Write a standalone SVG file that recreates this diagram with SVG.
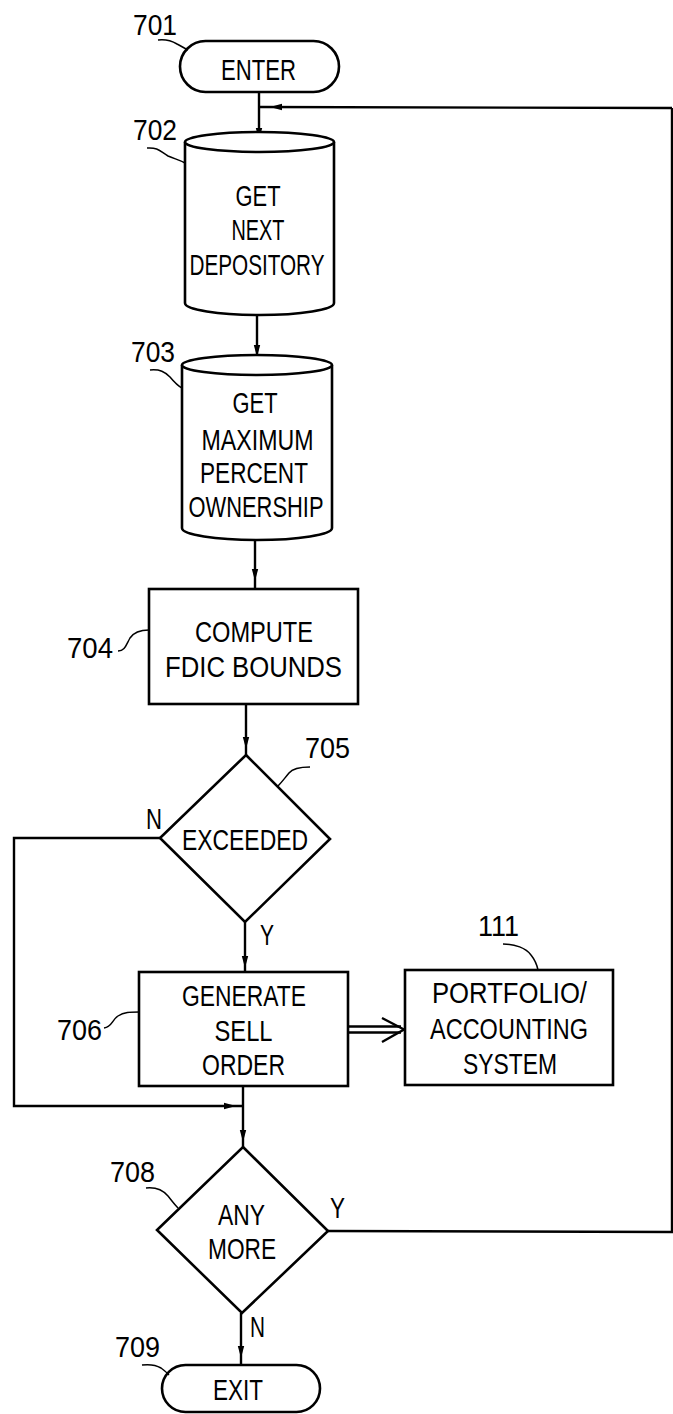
<svg xmlns="http://www.w3.org/2000/svg" width="673" height="1414" viewBox="0 0 673 1414">
<style>
.s{fill:#fff;stroke:#000;stroke-width:2.6}
.c{fill:none;stroke:#000;stroke-width:2.4}
.l{fill:none;stroke:#000;stroke-width:1.5}
text{font-family:"Liberation Sans",Arial,sans-serif;font-size:30px;fill:#000}
.n{font-size:29px}
.m{text-anchor:middle}
</style>
<defs>
<path id="ah" d="M0,0 L-3.2,-12 L3.2,-12 Z" fill="#000"/>
</defs>
<rect width="673" height="1414" fill="#fff"/>
<g id="connectors">
<path class="c" d="M259,92 L259,146"/>
<path class="c" d="M672,108 L259,107"/>
<path class="c" d="M257,315 L257,364"/>
<path class="c" d="M255,540 L255,589"/>
<path class="c" d="M246,704 L246,755"/>
<path class="c" d="M160,838 L14,838 L14,1106 L243,1106"/>
<path class="c" d="M245,922 L245,972"/>
<path class="c" d="M243,1086 L243,1147"/>
<path class="c" d="M328,1231 L672,1232 L672,108"/>
<path class="c" d="M241,1313 L241,1365"/>
<path class="c" d="M348,1026.5 L401,1026.5 M348,1032.5 L401,1032.5"/>
<path class="c" d="M382,1018 L404,1029.5 L382,1042"/>
<use href="#ah" transform="translate(270,107) rotate(90)"/>
<use href="#ah" transform="translate(259,140)"/>
<use href="#ah" transform="translate(257,357)"/>
<use href="#ah" transform="translate(255,581)"/>
<use href="#ah" transform="translate(246,749)"/>
<use href="#ah" transform="translate(245,968)"/>
<use href="#ah" transform="translate(236,1106) rotate(-90)"/>
<use href="#ah" transform="translate(243,1142)"/>
<use href="#ah" transform="translate(241,1358)"/>
<text class="n" x="146" y="829" textLength="16" lengthAdjust="spacingAndGlyphs">N</text>
<text class="n" x="260" y="945" textLength="14" lengthAdjust="spacingAndGlyphs">Y</text>
<text class="n" x="330" y="1218" textLength="15" lengthAdjust="spacingAndGlyphs">Y</text>
<text class="n" x="250" y="1337" textLength="15" lengthAdjust="spacingAndGlyphs">N</text>
</g>
<g id="n701">
<rect class="s" x="180" y="41" width="159" height="51" rx="25.5"/>
<text class="m" x="258.5" y="80" textLength="75" lengthAdjust="spacingAndGlyphs">ENTER</text>
<text class="n" x="133" y="35" textLength="44" lengthAdjust="spacingAndGlyphs">701</text>
<path class="l" d="M158,40 C166,39 172,41 177,44 C181,46 184,48 188,50"/>
</g>
<g id="n702">
<path class="s" d="M185,142 L185,303 A74.5,12 0 0 0 334,303 L334,142"/>
<ellipse class="s" cx="259.5" cy="142" rx="74.5" ry="10"/>
<text class="m" x="258" y="206" textLength="45" lengthAdjust="spacingAndGlyphs">GET</text>
<text class="m" x="258" y="240" textLength="53" lengthAdjust="spacingAndGlyphs">NEXT</text>
<text class="m" x="257" y="275" textLength="135" lengthAdjust="spacingAndGlyphs">DEPOSITORY</text>
<text class="n" x="133" y="140" textLength="44" lengthAdjust="spacingAndGlyphs">702</text>
<path class="l" d="M147,148 C158,147 161,152 168,156 C175,159 180,160 185,163"/>
</g>
<g id="n703">
<path class="s" d="M182,365 L182,528 A75,12 0 0 0 332,528 L332,365"/>
<ellipse class="s" cx="257" cy="365" rx="75" ry="10"/>
<text class="m" x="255" y="413" textLength="45" lengthAdjust="spacingAndGlyphs">GET</text>
<text class="m" x="257.5" y="450" textLength="112" lengthAdjust="spacingAndGlyphs">MAXIMUM</text>
<text class="m" x="254" y="483" textLength="108" lengthAdjust="spacingAndGlyphs">PERCENT</text>
<text class="m" x="256" y="517" textLength="135" lengthAdjust="spacingAndGlyphs">OWNERSHIP</text>
<text class="n" x="131" y="362" textLength="44" lengthAdjust="spacingAndGlyphs">703</text>
<path class="l" d="M150,370 C160,369 165,372 170,377 C175,383 178,386 182,388"/>
</g>
<g id="n704">
<rect class="s" x="149" y="589" width="209" height="115"/>
<text class="m" x="254" y="642" textLength="118" lengthAdjust="spacingAndGlyphs">COMPUTE</text>
<text class="m" x="253.5" y="677" textLength="177" lengthAdjust="spacingAndGlyphs">FDIC BOUNDS</text>
<text class="n" x="67" y="658" textLength="46" lengthAdjust="spacingAndGlyphs">704</text>
<path class="l" d="M118,651 C125,651 126,645 130,638 C134,632 140,630 149,630"/>
</g>
<g id="n705">
<path class="s" d="M246,755 L330,839 L245,922 L160,838 Z"/>
<text class="m" x="245" y="850" textLength="126" lengthAdjust="spacingAndGlyphs">EXCEEDED</text>
<text class="n" x="305" y="758" textLength="45" lengthAdjust="spacingAndGlyphs">705</text>
<path class="l" d="M310,767 C300,767 293,768 289,773 C284,779 282,782 278,786"/>
</g>
<g id="n706">
<rect class="s" x="139" y="972" width="209" height="114"/>
<text class="m" x="244" y="1006" textLength="124" lengthAdjust="spacingAndGlyphs">GENERATE</text>
<text class="m" x="243.5" y="1041" textLength="58" lengthAdjust="spacingAndGlyphs">SELL</text>
<text class="m" x="243.5" y="1075" textLength="83" lengthAdjust="spacingAndGlyphs">ORDER</text>
<text class="n" x="57" y="1040" textLength="45" lengthAdjust="spacingAndGlyphs">706</text>
<path class="l" d="M104,1028 C112,1027 112,1020 118,1016 C124,1012 130,1012 139,1012"/>
</g>
<g id="n111">
<rect class="s" x="405" y="970" width="208" height="115"/>
<text class="m" x="509.5" y="1003" textLength="155" lengthAdjust="spacingAndGlyphs">PORTFOLIO/</text>
<text class="m" x="509" y="1039" textLength="158" lengthAdjust="spacingAndGlyphs">ACCOUNTING</text>
<text class="m" x="510" y="1074" textLength="94" lengthAdjust="spacingAndGlyphs">SYSTEM</text>
<text class="n" x="478" y="936" textLength="41" lengthAdjust="spacingAndGlyphs">111</text>
<path class="l" d="M503,944 C515,944 526,948 531,955 C535,960 537,965 538,970"/>
</g>
<g id="n708">
<path class="s" d="M243,1147 L328,1231 L242,1313 L157,1230 Z"/>
<text class="m" x="241.5" y="1225" textLength="47" lengthAdjust="spacingAndGlyphs">ANY</text>
<text class="m" x="242" y="1259" textLength="68" lengthAdjust="spacingAndGlyphs">MORE</text>
<text class="n" x="110" y="1182" textLength="45" lengthAdjust="spacingAndGlyphs">708</text>
<path class="l" d="M146,1188 C155,1187 162,1189 168,1196 C172,1201 175,1205 178,1208"/>
</g>
<g id="n709">
<rect class="s" x="162" y="1365" width="158" height="47" rx="23.5"/>
<text class="m" x="238" y="1400" textLength="50" lengthAdjust="spacingAndGlyphs">EXIT</text>
<text class="n" x="115" y="1357" textLength="45" lengthAdjust="spacingAndGlyphs">709</text>
<path class="l" d="M142,1365 C150,1364 156,1365 161,1368 C164,1370 166,1372 169,1375"/>
</g>
</svg>
